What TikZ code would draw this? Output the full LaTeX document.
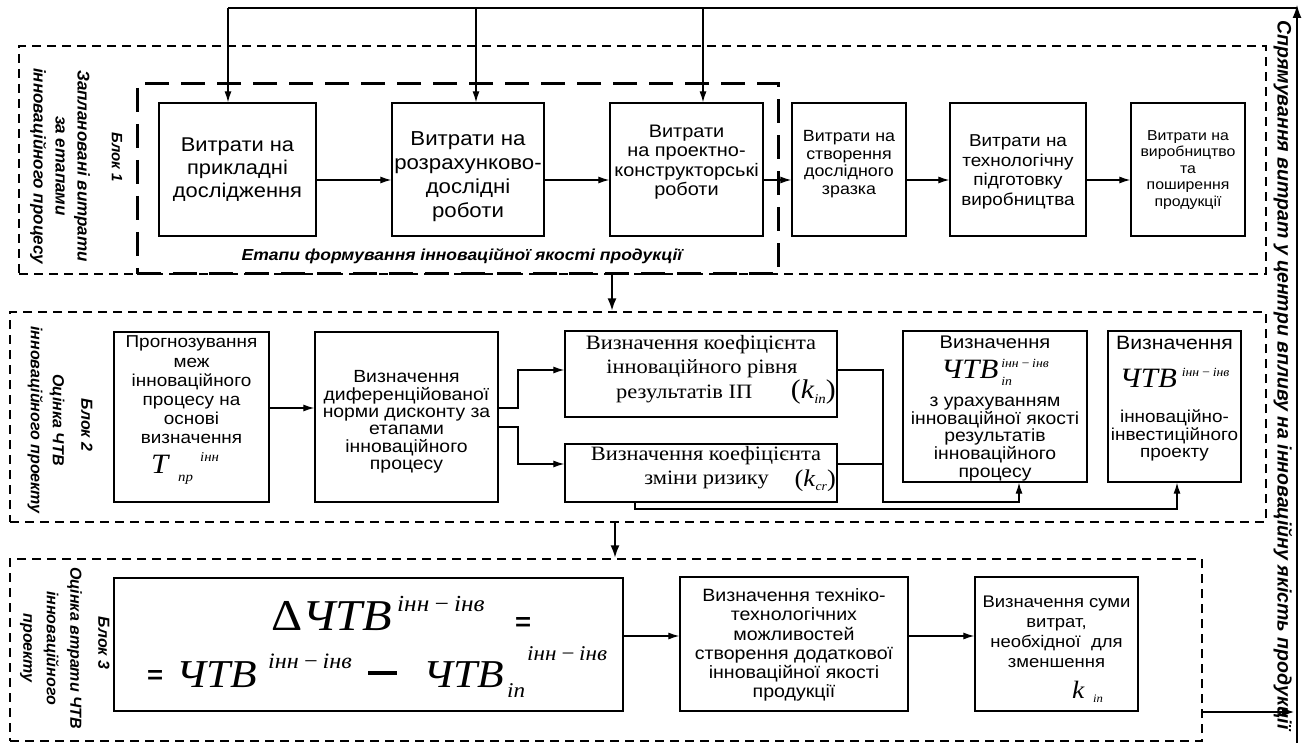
\documentclass[tikz,border=0pt]{standalone}
\usepackage{fontspec}
\setmainfont{Liberation Sans}
\newfontfamily\ssf{Liberation Sans}[FakeStretch=1.1]
\newfontfamily\srf{Liberation Serif}[FakeStretch=1.1]
\newfontfamily\lbf{Liberation Sans}
\usetikzlibrary{arrows.meta}
\newcommand\fsz[2]{\fontsize{#1}{#2}\selectfont}
\begin{document}
\begin{tikzpicture}[x=1pt,y=-1pt,
  box/.style={draw, line width=1.3pt, inner sep=0pt},
  txt/.style={align=center, inner sep=0pt},
  bw/.style={anchor=base west, inner sep=0pt},
  dsh/.style={draw, line width=1.2pt, dash pattern=on 9pt off 6pt, inner sep=0pt},
  tdsh/.style={draw, line width=3pt, dash pattern=on 24pt off 12pt, inner sep=0pt},
  arr/.style={line width=1.2pt, -{Latex[length=11pt,width=7pt]}},
  tarr/.style={line width=2.6pt, -{Latex[length=13pt,width=9pt]}},
  lab/.style={rotate=-90, align=center, inner sep=0pt},
]
\useasboundingbox (0,0) rectangle (1303,743);

% ---------- block frames ----------
\node[dsh, minimum width=1247pt, minimum height=228pt] (blk1) at (642.5,160) {};
\node[tdsh, minimum width=641pt, minimum height=190pt] (blk1in) at (457.5,179) {};
\node[dsh, minimum width=1256pt, minimum height=210pt] (blk2) at (638,417) {};
\node[dsh, minimum width=1192pt, minimum height=182pt] (blk3) at (606,650) {};

% ---------- block labels ----------
\node[lab, font=\lbf\bfseries\itshape\fsz{15}{16}] (l1a) at (117,157) {Блок 1};
\node[lab, font=\lbf\bfseries\itshape\fsz{17}{22}] (l1b) at (60,166) {Заплановані витрати\\за етапами\\інноваційного процесу};
\node[lab, font=\lbf\bfseries\itshape\fsz{16}{18}] (l2a) at (87,425) {Блок 2};
\node[lab, font=\lbf\bfseries\itshape\fsz{16}{22}] (l2b) at (46,420) {Оцінка ЧТВ\\інноваційного проекту};
\node[lab, font=\lbf\bfseries\itshape\fsz{16}{18}] (l3a) at (104,643) {Блок 3};
\node[lab, font=\lbf\bfseries\itshape\fsz{16}{23.5}] (l3b) at (51,648) {Оцінка втрати ЧТВ\\інноваційного\\проекту};
\node[lab, font=\lbf\bfseries\itshape\fsz{19.5}{22}] (rt) at (1283,375) {Спрямування витрат у центри впливу на інноваційну якість продукції};

% ---------- row 1 ----------
\node[box, minimum width=157pt, minimum height=133pt] (b1) at (237.5,169.5) {};
\node[txt, font=\ssf\fsz{19.9}{23}] (b1t) at (237.5,170) {Витрати на\\прикладні\\дослідження};
\node[box, minimum width=152pt, minimum height=133pt] (b2) at (468,169.5) {};
\node[txt, font=\ssf\fsz{20.2}{24}] (b2t) at (468,177) {Витрати на\\розрахунково-\\дослідні\\роботи};
\node[box, minimum width=153pt, minimum height=133pt] (b3) at (686.5,169.5) {};
\node[txt, font=\ssf\fsz{18.1}{19.5}] (b3t) at (686.5,162) {Витрати\\на проектно-\\конструкторські\\роботи};
\node[box, minimum width=114pt, minimum height=133pt] (b4) at (849,169.5) {};
\node[txt, font=\ssf\fsz{16.2}{17.5}] (b4t) at (849,164) {Витрати на\\створення\\дослідного\\зразка};
\node[box, minimum width=136pt, minimum height=133pt] (b5) at (1018,169.5) {};
\node[txt, font=\ssf\fsz{17.2}{19.7}] (b5t) at (1018,172) {Витрати на\\технологічну\\підготовку\\виробництва};
\node[box, minimum width=114pt, minimum height=133pt] (b6) at (1188,169.5) {};
\node[txt, font=\ssf\fsz{14.4}{16.5}] (b6t) at (1188,170) {Витрати на\\виробництво\\та\\поширення\\продукції};
\node[txt, font=\ssf\bfseries\itshape\fsz{15.9}{17}] (etap) at (462,256) {Етапи формування інноваційної якості продукції};

% ---------- row 2 ----------
\node[box, minimum width=155pt, minimum height=170pt] (P) at (191.5,417) {};
\node[txt, font=\ssf\fsz{17.2}{19.2}] (Pt) at (191.5,390) {Прогнозування\\меж\\інноваційного\\процесу на\\основі\\визначення};
\node[bw, font=\srf\itshape\fsz{28}{28}] (PT) at (151,473) {T};
\node[bw, font=\srf\itshape\fsz{13.5}{13.5}] (PTs) at (178,481) {пр};
\node[bw, font=\srf\itshape\fsz{13.5}{13.5}] (PTp) at (200,461) {інн};
\node[box, minimum width=183pt, minimum height=170pt] (D) at (406.5,417) {};
\node[txt, font=\ssf\fsz{17.6}{17.4}] (Dt) at (406.5,422) {Визначення\\диференційованої\\норми дисконту за\\етапами\\інноваційного\\процесу};

\node[box, minimum width=272pt, minimum height=86pt] (K1) at (701,374) {};
\node[txt, font=\srf\fsz{20.4}{21}] (K1a) at (701,345) {Визначення коефіцієнта};
\node[txt, font=\srf\fsz{20.4}{21}] (K1b) at (702,369) {інноваційного рівня};
\node[txt, anchor=west, font=\srf\fsz{20.4}{21}] (K1c) at (616,394) {результатів ІП};
\node[txt, anchor=east, font=\srf\fsz{27}{27}] (K1d) at (836,392) {(\textit{k}\raisebox{-5pt}{\fsz{13.5}{13.5}\itshape in})};

\node[box, minimum width=272pt, minimum height=58pt] (K2) at (701,473) {};
\node[txt, font=\srf\fsz{20.4}{21}] (K2a) at (706,456) {Визначення коефіцієнта};
\node[txt, font=\srf\fsz{20.4}{21}] (K2b) at (706.5,480) {зміни ризику};
\node[txt, anchor=east, font=\srf\fsz{24}{24}] (K2d) at (836,481) {(\textit{k}\raisebox{-4pt}{\fsz{12.5}{12.5}\itshape cr})};

\node[box, minimum width=184pt, minimum height=151pt] (V1) at (995,406.5) {};
\node[txt, font=\ssf\fsz{18.3}{18}] (V1a) at (995,342) {Визначення};
\node[txt, font=\srf\itshape\fsz{28}{28}] (V1b) at (995,372) {ЧТВ\hspace{3pt}\raisebox{-7pt}{\fsz{12.5}{12.5}\rlap{in}}\raisebox{11pt}{\fsz{12.5}{12.5}інн\,−\,інв}};
\node[txt, font=\ssf\fsz{17.6}{17.9}] (V1c) at (995,439) {з урахуванням\\інноваційної якості\\результатів\\інноваційного\\процесу};

\node[box, minimum width=133pt, minimum height=151pt] (V2) at (1174.5,406.5) {};
\node[txt, font=\ssf\fsz{19.3}{19}] (V2a) at (1174.5,343) {Визначення};
\node[txt, font=\srf\itshape\fsz{28}{28}] (V2b) at (1174.5,378) {ЧТВ\hspace{5pt}\raisebox{11pt}{\fsz{12.5}{12.5}інн\,−\,інв}};
\node[txt, font=\ssf\fsz{17.2}{17.5}] (V2c) at (1174.5,435.5) {інноваційно-\\інвестиційного\\проекту};

% ---------- row 3 ----------
\node[box, minimum width=509pt, minimum height=133pt] (F) at (368.5,644.5) {};
\node[bw, font=\srf\fsz{44}{44}] (F1a) at (271,630) {Δ\textit{ЧТВ}};
\node[bw, font=\srf\itshape\fsz{23}{23}] (F1b) at (397,611) {інн\,−\,інв};
\node[bw, font=\ssf\bfseries\fsz{25}{25}] (F1c) at (515,630) {=};
\node[bw, font=\ssf\bfseries\fsz{25}{25}] (F2a) at (147,683) {=};
\node[bw, font=\srf\itshape\fsz{39.5}{39.5}] (F2b) at (176,687) {ЧТВ};
\node[bw, font=\srf\itshape\fsz{22}{22}] (F2c) at (268,668) {інн\,−\,інв};
\node[anchor=west, inner sep=0pt] (F2m) at (368,673) {\rule{29pt}{4pt}};
\node[bw, font=\srf\itshape\fsz{39.5}{39.5}] (F2e) at (423,687) {ЧТВ};
\node[bw, font=\srf\itshape\fsz{21}{21}] (F2f) at (507,697) {in};
\node[bw, font=\srf\itshape\fsz{21}{21}] (F2g) at (527,660) {інн\,−\,інв};

\node[box, minimum width=228pt, minimum height=134pt] (T) at (794,644) {};
\node[txt, font=\ssf\fsz{17.8}{19.2}] (Tt) at (794,645) {Визначення техніко-\\технологічних\\можливостей\\створення додаткової\\інноваційної якості\\продукції};
\node[box, minimum width=163pt, minimum height=134pt] (S) at (1056.5,644) {};
\node[txt, font=\ssf\fsz{16.8}{20}] (St) at (1056.5,632) {Визначення суми\\витрат,\\необхідної\ \ для\\зменшення};
\node[bw, font=\srf\itshape\fsz{25}{25}] (Sk) at (1072,698) {k};
\node[bw, font=\srf\itshape\fsz{11.5}{11.5}] (Ski) at (1093,702) {in};

% ---------- coordinates ----------
\coordinate (tr) at (1297,4);
\coordinate (tc) at (1297,8);
\coordinate (rb) at (1297,743);
\coordinate (rv) at (1295,0);
\coordinate (t1) at (228,8);
\coordinate (t2) at (476,8);
\coordinate (t3) at (703,8);
\coordinate (r1) at (0,180);
\coordinate (a1) at (612,0);
\coordinate (a2) at (615,0);
\coordinate (r2) at (0,408);
\coordinate (r2b) at (0,427);
\coordinate (bx) at (518,0);
\coordinate (ka) at (0,370);
\coordinate (kb) at (0,464);
\coordinate (jx) at (883,0);
\coordinate (jy) at (0,502);
\coordinate (vx1) at (1019,0);
\coordinate (kx) at (635,0);
\coordinate (jy2) at (0,509);
\coordinate (vx2) at (1177,0);
\coordinate (r3) at (0,636);
\coordinate (r4) at (0,712);

% ---------- feedback loop ----------
\draw[line width=2.6pt, -{Latex[length=14pt,width=9pt]}] (rb) -- (tr);
\draw[line width=2.6pt] (tc) -- (t1);
\draw[arr] (t1) -- (b1.north -| t1);
\draw[arr] (t2) -- (b2.north -| t2);
\draw[arr] (t3) -- (b3.north -| t3);
\draw[tarr] (blk3.east |- r4) -- (rv |- r4);

% ---------- row 1 connectors ----------
\draw[arr] (b1.east |- r1) -- (b2.west |- r1);
\draw[arr] (b2.east |- r1) -- (b3.west |- r1);
\draw[arr] (b3.east |- r1) -- (b4.west |- r1);
\draw[arr] (b4.east |- r1) -- (b5.west |- r1);
\draw[arr] (b5.east |- r1) -- (b6.west |- r1);
\draw[tarr] (blk1in.south -| a1) -- (blk2.north -| a1);

% ---------- row 2 connectors ----------
\draw[arr] (P.east |- r2) -- (D.west |- r2);
\draw[arr] (D.east |- r2) -- (bx |- r2) -- (bx |- ka) -- (K1.west |- ka);
\draw[arr] (D.east |- r2b) -- (bx |- r2b) -- (bx |- kb) -- (K2.west |- kb);
\draw[arr] (K1.east |- ka) -- (jx |- ka) -- (jx |- jy) -- (vx1 |- jy) -- (V1.south -| vx1);
\draw[line width=1.2pt] (K2.east |- kb) -- (jx |- kb);
\draw[arr] (K2.south -| kx) -- (kx |- jy2) -- (vx2 |- jy2) -- (V2.south -| vx2);
\draw[tarr] (blk2.south -| a2) -- (blk3.north -| a2);

% ---------- row 3 connectors ----------
\draw[arr] (F.east |- r3) -- (T.west |- r3);
\draw[arr] (T.east |- r3) -- (S.west |- r3);
\end{tikzpicture}
\end{document}
